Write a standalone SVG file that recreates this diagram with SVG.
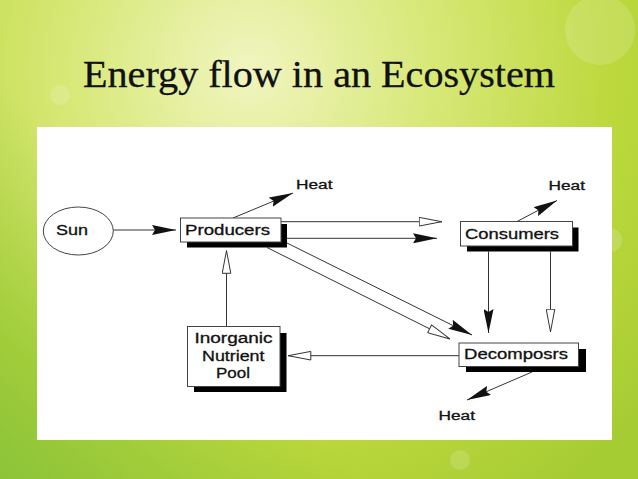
<svg xmlns="http://www.w3.org/2000/svg" width="638" height="479" viewBox="0 0 638 479">
<defs>
<radialGradient id="bg" cx="250" cy="70" r="520" gradientUnits="userSpaceOnUse">
<stop offset="0" stop-color="#f0f5c0"/>
<stop offset="0.35" stop-color="#d8e878"/>
<stop offset="0.7" stop-color="#bcd83c"/>
<stop offset="1" stop-color="#a6cc34"/>
</radialGradient>
<linearGradient id="shade" x1="0" y1="479" x2="200" y2="300" gradientUnits="userSpaceOnUse">
<stop offset="0" stop-color="#7fbf3a" stop-opacity="0.7"/>
<stop offset="1" stop-color="#7fbf3a" stop-opacity="0"/>
</linearGradient>
<marker id="fill" viewBox="0 0 24 10" refX="24" refY="5" markerWidth="24" markerHeight="10" markerUnits="userSpaceOnUse" orient="auto">
<path d="M0,0 L24,5 L0,10 L3,5 Z" fill="#111"/>
</marker>
<marker id="hollow" viewBox="0 0 24 10" refX="23.5" refY="5" markerWidth="24" markerHeight="10" markerUnits="userSpaceOnUse" orient="auto">
<path d="M0.7,0.7 L23.3,5 L0.7,9.3 Z" fill="#fff" stroke="#333" stroke-width="1"/>
</marker>
<style>
.box{fill:#fff;stroke:#444;stroke-width:1}
.shadow{fill:#000}
.lbl{font-family:"Liberation Sans",Arial,sans-serif;font-size:14px;fill:#111;stroke:#111;stroke-width:0.3}
.heat{font-family:"Liberation Sans",Arial,sans-serif;font-size:12.5px;fill:#111;stroke:#111;stroke-width:0.3}
.title{font-family:"Liberation Serif","DejaVu Serif",serif;font-size:38px;fill:#111;stroke:#111;stroke-width:0.3}
.c{fill:none;stroke:#333;stroke-width:1}
.cf{marker-end:url(#fill)}
.ch{marker-end:url(#hollow)}
</style>
</defs>
<rect x="0" y="0" width="638" height="479" fill="url(#bg)"/>
<rect x="0" y="0" width="638" height="479" fill="url(#shade)"/>
<g opacity="0.15" fill="#ffffff">
<circle cx="60" cy="95" r="10"/>
<circle cx="610" cy="240" r="12"/>
<circle cx="600" cy="30" r="35"/>
<circle cx="460" cy="460" r="10"/>
</g>
<text class="title" x="83" y="87" textLength="472" lengthAdjust="spacingAndGlyphs">Energy flow in an Ecosystem</text>
<rect x="37" y="127" width="575" height="313" fill="#fff"/>

<g id="connectors">
<line class="c cf" x1="113.5" y1="230" x2="176" y2="230"/>
<line class="c cf" x1="233" y1="218" x2="293" y2="193"/>
<line class="c ch" x1="281" y1="221.7" x2="442" y2="221.7"/>
<line class="c cf" x1="281" y1="238.3" x2="437" y2="238.3"/>
<line class="c ch" x1="267" y1="247.5" x2="450" y2="339"/>
<line class="c cf" x1="287" y1="243" x2="472" y2="335"/>
<line class="c cf" x1="488.5" y1="251.5" x2="488.5" y2="333"/>
<line class="c ch" x1="550.5" y1="251.5" x2="550.5" y2="332"/>
<line class="c cf" x1="517" y1="221.5" x2="557" y2="200.5"/>
<line class="c ch" x1="459" y1="355.7" x2="288" y2="355.7"/>
<line class="c cf" x1="532" y1="372" x2="467" y2="400"/>
<line class="c ch" x1="226.5" y1="326" x2="226.5" y2="250.5"/>
</g>

<g id="sun">
<ellipse cx="78.3" cy="231" rx="35" ry="24" fill="#fff" stroke="#444" stroke-width="1"/>
<text class="lbl" x="56" y="235" textLength="32" lengthAdjust="spacingAndGlyphs">Sun</text>
</g>
<g id="producers">
<rect class="shadow" x="187" y="224" width="100" height="23.5"/>
<rect class="box" x="180.5" y="218" width="100.5" height="24"/>
<text class="lbl" x="185" y="234.5" textLength="85" lengthAdjust="spacingAndGlyphs">Producers</text>
</g>
<g id="consumers">
<rect class="shadow" x="467" y="227.5" width="111.5" height="24"/>
<rect class="box" x="460.5" y="221.5" width="112" height="24.5"/>
<text class="lbl" x="465" y="238.5" textLength="94" lengthAdjust="spacingAndGlyphs">Consumers</text>
</g>
<g id="decomposers">
<rect class="shadow" x="466" y="349" width="120" height="23"/>
<rect class="box" x="459" y="343" width="119.5" height="23.5"/>
<text class="lbl" x="464" y="358.5" textLength="104" lengthAdjust="spacingAndGlyphs">Decomposrs</text>
</g>
<g id="inorganic">
<rect class="shadow" x="194" y="333" width="92.5" height="59"/>
<rect class="box" x="187.5" y="326.5" width="92.5" height="60"/>
<text class="lbl" x="194.5" y="342.5" textLength="78" lengthAdjust="spacingAndGlyphs">Inorganic</text>
<text class="lbl" x="202" y="360.5" textLength="62.5" lengthAdjust="spacingAndGlyphs">Nutrient</text>
<text class="lbl" x="216" y="377.7" textLength="34" lengthAdjust="spacingAndGlyphs">Pool</text>
</g>
<g id="heat-labels">
<text class="heat" x="296" y="188.5" textLength="36.5" lengthAdjust="spacingAndGlyphs">Heat</text>
<text class="heat" x="548.5" y="189.5" textLength="36.5" lengthAdjust="spacingAndGlyphs">Heat</text>
<text class="heat" x="438.5" y="419.5" textLength="36.5" lengthAdjust="spacingAndGlyphs">Heat</text>
</g>
</svg>
